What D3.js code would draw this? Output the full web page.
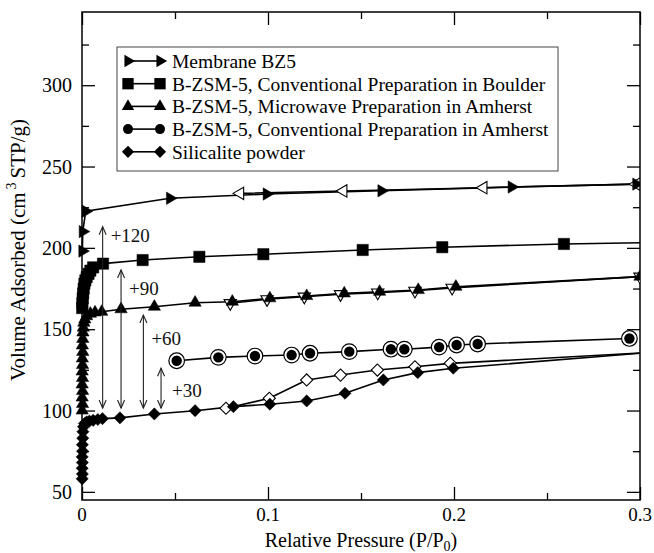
<!DOCTYPE html>
<html><head><meta charset="utf-8">
<script src="https://cdn.jsdelivr.net/npm/d3@7"></script>
<style>
body{margin:0;background:#fff}
svg{display:block}
</style>
</head><body>
<svg id="c" width="654" height="553"></svg>
<script>
// ---------- data ----------
const xTicks = [0, 0.1, 0.2, 0.3];
const xMinorTicks = [0.05, 0.15, 0.25];
const yTicks = [50, 100, 150, 200, 250, 300];
const yMinorTicks = [75, 125, 175, 225, 275, 325];

const legendLabels = [
  "Membrane BZ5",
  "B-ZSM-5, Conventional Preparation in Boulder",
  "B-ZSM-5, Microwave Preparation in Amherst",
  "B-ZSM-5, Conventional Preparation in Amherst",
  "Silicalite powder"
];

// [P/P0, volume]
const membraneAds = [[0.0002,198],[0.0004,210],[0.002,222.5],[0.0473,230.5],[0.0993,233.1],[0.161,235.1],[0.231,237.4],[0.298,239.2]];
const membraneDes = [[0.298,239.2],[0.2158,237],[0.1405,235],[0.085,233.5]];

const boulderAds = [[0.0001,163],[0.0002,166],[0.0004,169],[0.0006,172],[0.0009,175],[0.0013,178],[0.0018,180],[0.0025,182],[0.0035,184],[0.0045,186],[0.006,188],[0.0113,190.3],[0.0326,192.5],[0.0631,194.5],[0.0975,196.1],[0.1509,198.7],[0.1937,200.4],[0.2591,202.4],[0.31,203.3]];

const microwaveAds = [[0.0001,100],[0.0003,104],[0.0001,108],[0.0003,112],[0.0001,116],[0.0003,120],[0.0001,124],[0.0003,128],[0.0002,132],[0.0004,136],[0.0002,140],[0.0004,144],[0.0005,148],[0.0007,151],[0.001,154],[0.0015,156],[0.0025,158],[0.0045,159.5],[0.007,160.3],[0.0106,160.7],[0.021,162.3],[0.0389,163.8],[0.0608,166.3],[0.0808,166.9],[0.101,169],[0.1208,170.4],[0.141,172],[0.160,173],[0.1808,174.1],[0.201,176.1],[0.3,182.3]];
const microwaveDes = [[0.3,182.3],[0.199,175.4],[0.179,173.6],[0.159,172.5],[0.139,171.5],[0.1195,170],[0.0995,168.4],[0.0797,166]];

const amherstAds = [[0.0509,130.6],[0.0733,132.7],[0.093,133.5],[0.1127,134.1],[0.1226,135.2],[0.1437,136.2],[0.1661,137.7],[0.1733,137.7],[0.192,139],[0.2014,140.3],[0.2127,140.9],[0.2943,144.3]];

const silicaliteAds = [[0.0001,58],[0.0002,61],[0.0001,64.5],[0.0002,68],[0.0001,71.5],[0.0003,75],[0.0002,79],[0.0004,83],[0.0005,87],[0.0008,90],[0.0013,92],[0.0025,93],[0.004,93.5],[0.006,94],[0.0085,94.5],[0.011,95],[0.0204,95.5],[0.0389,97.9],[0.0608,99.9],[0.0814,102.4],[0.101,103.9],[0.1208,105.9],[0.1414,110.6],[0.162,118.8],[0.1805,123.3],[0.1996,126],[0.31,136.1]];
const silicaliteDes = [[0.31,136],[0.198,129],[0.179,126.9],[0.1588,124.9],[0.139,121.8],[0.1208,118.8],[0.1007,107.5],[0.0774,101.4]];

// offset arrows
const arrowP = [0.0111, 0.021, 0.033, 0.0425];
const arrowBottom = [101.5, 101.5, 101.5, 101.5];
const arrowTop = [213, 186.4, 158.7, 126];
const arrowLabels = ["+120", "+90", "+60", "+30"];
const arrowLabelV = [207.9, 175.3, 144.6, 112.6];

// ---------- layout ----------
const FONT = "'Liberation Serif', 'DejaVu Serif', 'Times New Roman', Times, serif";
const m = {left: 82, right: 640, top: 12, bottom: 500};
const svg = d3.select("#c");
const x = d3.scaleLinear().domain([0, 0.3]).range([m.left, m.right]);
const y = d3.scaleLinear().domain([45, 345]).range([m.bottom, m.top]);

svg.append("defs").append("clipPath").attr("id","clip")
  .append("rect").attr("x", 0).attr("y", 0).attr("width", m.right).attr("height", 553);

const axG = svg.append("g");
function tickAxis(axisFn, scale, ticks, len, tr) {
  const g = axG.append("g").attr("transform", tr)
    .call(axisFn(scale).tickValues(ticks).tickSizeInner(len).tickSizeOuter(0).tickFormat(""));
  g.select(".domain").remove();
  g.selectAll("line").attr("stroke","#000").attr("stroke-width",1.3);
  return g;
}
tickAxis(d3.axisTop, x, xTicks, 13, `translate(0,${m.bottom})`);
tickAxis(d3.axisTop, x, xMinorTicks, 7, `translate(0,${m.bottom})`);
tickAxis(d3.axisBottom, x, xTicks, 13, `translate(0,${m.top})`);
tickAxis(d3.axisBottom, x, xMinorTicks, 7, `translate(0,${m.top})`);
tickAxis(d3.axisRight, y, yTicks, 13, `translate(${m.left},0)`);
tickAxis(d3.axisRight, y, yMinorTicks, 7, `translate(${m.left},0)`);
tickAxis(d3.axisLeft, y, yTicks, 13, `translate(${m.right},0)`);
tickAxis(d3.axisLeft, y, yMinorTicks, 7, `translate(${m.right},0)`);

axG.append("rect").attr("x", m.left).attr("y", m.top).attr("width", m.right-m.left).attr("height", m.bottom-m.top)
  .attr("fill","none").attr("stroke","#000").attr("stroke-width",1.5);

function txt(sel) { return sel.append("text").style("font-family", FONT).style("fill", "#000"); }

// tick labels
const xl = svg.append("g");
xTicks.forEach(d => txt(xl).attr("x", x(d)).attr("y", 521).attr("text-anchor","middle")
  .style("font-size", "19px").text(d === 0 ? "0" : d3.format(".1f")(d)));
const yl = svg.append("g");
yTicks.forEach(d => txt(yl).attr("x", 72).attr("y", y(d)).attr("dy","0.35em").attr("text-anchor","end")
  .style("font-size", "20px").text(d));

// axis titles
const xt = txt(svg).attr("x", 361).attr("y", 547).attr("text-anchor","middle").style("font-size", "20px");
xt.append("tspan").text("Relative Pressure (P/P");
xt.append("tspan").style("font-size", "14px").attr("dy", 4).text("0");
xt.append("tspan").attr("dy", -4).text(")");

const yt = txt(svg).attr("transform","translate(25,250) rotate(-90)").attr("text-anchor","middle").style("font-size", "21px");
yt.append("tspan").text("Volume Adsorbed (cm");
yt.append("tspan").style("font-size", "14px").attr("dy", -9).attr("dx", 3).text("3");
yt.append("tspan").attr("dy", 9).attr("dx", 4).text("STP/g)");

// ---------- data marks ----------
const plot = svg.append("g").attr("clip-path","url(#clip)");
const line = d3.line().x(d => x(d[0])).y(d => y(d[1]));

function drawLine(data, w) {
  plot.append("path").datum(data).attr("d", line).attr("fill","none").attr("stroke","#000").attr("stroke-width", w || 1.6);
}
const tri = d3.symbol().type(d3.symbolTriangle).size(66)();
const sq = d3.symbol().type(d3.symbolSquare).size(128)();
const dia = d3.symbol().type(d3.symbolSquare).size(74)();

function drawMarkers(data, path, rot, filled) {
  plot.append("g").selectAll("path").data(data).join("path")
    .attr("d", path)
    .attr("transform", d => `translate(${x(d[0])},${y(d[1])}) rotate(${rot})`)
    .attr("fill", filled ? "#000" : "#fff")
    .attr("stroke", "#000").attr("stroke-width", filled ? 0.5 : 1.1);
}

drawLine(membraneAds); drawLine(membraneDes);
drawLine(boulderAds);
drawLine(microwaveAds); drawLine(microwaveDes);
drawLine(amherstAds);
drawLine(silicaliteAds); drawLine(silicaliteDes);

drawMarkers(membraneDes, tri, -90, false);
drawMarkers(membraneAds, tri, 90, true);
drawMarkers(boulderAds, sq, 0, true);
drawMarkers(microwaveDes, tri, 180, false);
drawMarkers(microwaveAds, tri, 0, true);
drawMarkers(silicaliteDes, dia, 45, false);
drawMarkers(silicaliteAds, dia, 45, true);

plot.append("g").selectAll("circle").data(amherstAds).join("circle")
  .attr("cx", d => x(d[0])).attr("cy", d => y(d[1])).attr("r", 7.8)
  .attr("fill","#fff").attr("stroke","#000").attr("stroke-width",1.2);
plot.append("g").selectAll("circle").data(amherstAds).join("circle")
  .attr("cx", d => x(d[0])).attr("cy", d => y(d[1])).attr("r", 5.2).attr("fill","#000");

// ---------- offset arrows ----------
const arG = svg.append("g").attr("stroke","#222").attr("stroke-width",1.1).attr("fill","none");
arrowP.forEach((p, i) => {
  const ax = x(p), y0 = y(arrowBottom[i]), y1 = y(arrowTop[i]);
  arG.append("line").attr("x1", ax).attr("x2", ax).attr("y1", y0).attr("y2", y1);
  arG.append("path").attr("d", `M${ax-3.5},${y1+8} L${ax},${y1} L${ax+3.5},${y1+8}`);
  arG.append("path").attr("d", `M${ax-3.5},${y0-8} L${ax},${y0} L${ax+3.5},${y0-8}`);
  txt(svg).attr("x", ax + (i === 3 ? 11 : 8)).attr("y", y(arrowLabelV[i])).attr("dy","0.35em")
    .style("font-size", "19px").style("fill","#111").text(arrowLabels[i]);
});

// ---------- legend ----------
const lg = svg.append("g");
lg.append("rect").attr("x", 117).attr("y", 47).attr("width", 441).attr("height", 124)
  .attr("fill","#fff").attr("stroke","#444").attr("stroke-width",1);
const legendSymbols = [
  {p: tri, r: 90}, {p: sq, r: 0}, {p: tri, r: 0}, {p: "circle", r: 0}, {p: dia, r: 45}
];
legendLabels.forEach((lab, i) => {
  const cy = 61 + i * 22.7;
  lg.append("line").attr("x1", 128).attr("x2", 160).attr("y1", cy).attr("y2", cy).attr("stroke","#000").attr("stroke-width",1.6);
  [128, 160].forEach(cx => {
    if (legendSymbols[i].p === "circle") {
      lg.append("circle").attr("cx", cx).attr("cy", cy).attr("r", 5).attr("fill","#000");
    } else {
      lg.append("path").attr("d", legendSymbols[i].p)
        .attr("transform", `translate(${cx},${cy}) rotate(${legendSymbols[i].r})`).attr("fill","#000");
    }
  });
  txt(lg).attr("x", 172).attr("y", cy).attr("dy","0.35em").style("font-size", "19.5px").text(lab);
});
</script>
</body></html>
